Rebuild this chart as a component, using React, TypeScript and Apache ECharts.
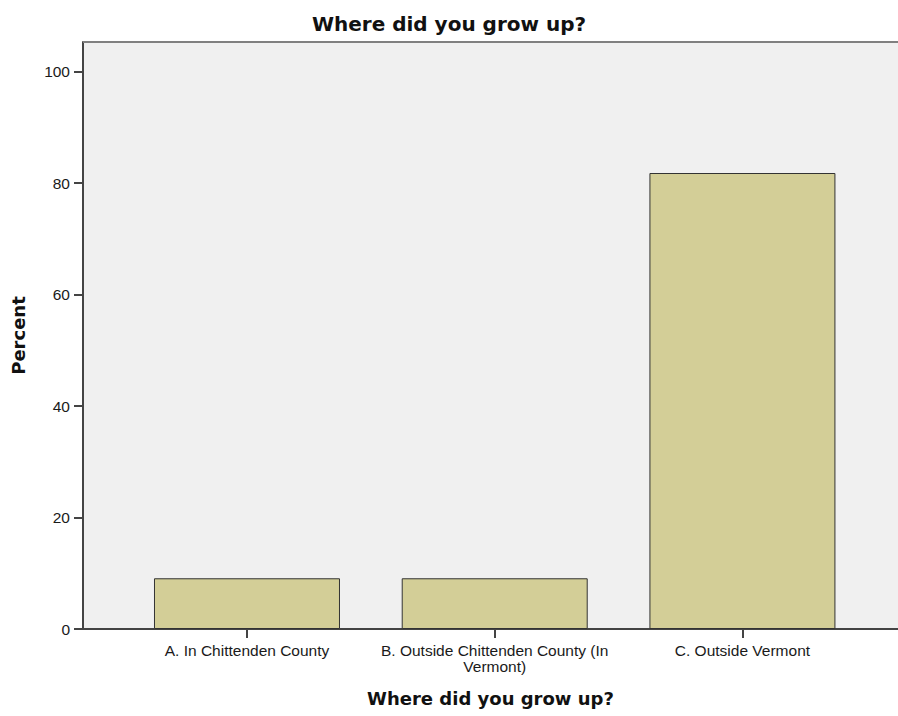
import React, { useEffect, useRef } from "react";
import * as echarts from "echarts";

const categories = [
  "A. In Chittenden County",
  "B. Outside Chittenden County (In\nVermont)",
  "C. Outside Vermont",
];
const positions = [1, 2, 3];
const percents = [9.1, 9.1, 81.8];
const yTicks = [0, 20, 40, 60, 80, 100];
const titleText = "Where did you grow up?";
const xName = "Where did you grow up?";
const yName = "Percent";

export default function App() {
  const ref = useRef<HTMLDivElement>(null);
  useEffect(() => {
    document.body.style.margin = "0";
    const chart = echarts.init(ref.current!, null, { renderer: "svg" });
    chart.setOption({
      animation: false,
      backgroundColor: "#ffffff",
      title: {
        text: titleText,
        left: "center",
        top: 9,
        textStyle: {
          fontFamily: "DejaVu Sans",
          fontWeight: "bold",
          fontSize: 20,
          color: "#111",
        },
      },
      grid: {
        left: 83,
        right: 0,
        top: 42,
        bottom: 87,
        show: true,
        backgroundColor: "#f0f0f0",
        borderWidth: 0,
        borderColor: "transparent",
      },
      xAxis: {
        type: "value",
        min: 0.338,
        max: 3.628,
        name: xName,
        nameLocation: "middle",
        nameGap: 60,
        nameTextStyle: {
          fontFamily: "DejaVu Sans",
          fontWeight: "bold",
          fontSize: 18,
          color: "#111",
        },
        splitLine: { show: false },
        axisLine: { show: true, lineStyle: { color: "#444", width: 2 } },
        axisTick: {
          show: true,
          customValues: positions,
          length: 9,
          lineStyle: { color: "#444", width: 2 },
        },
        axisLabel: {
          customValues: positions,
          margin: 13,
          fontFamily: "Liberation Sans",
          fontSize: 15.5,
          color: "#1a1a1a",
          lineHeight: 16,
          align: "center",
          formatter: (v: number) => categories[Math.round(v) - 1] ?? "",
        },
      },
      yAxis: {
        type: "value",
        min: 0,
        max: 105.3,
        interval: 20,
        name: yName,
        nameLocation: "middle",
        nameGap: 56,
        nameTextStyle: {
          fontFamily: "DejaVu Sans",
          fontWeight: "bold",
          fontSize: 18,
          color: "#111",
        },
        splitLine: { show: false },
        axisLine: { show: true, lineStyle: { color: "#444", width: 2 } },
        axisTick: {
          show: true,
          customValues: yTicks,
          length: 9,
          lineStyle: { color: "#444", width: 2 },
        },
        axisLabel: {
          customValues: yTicks,
          margin: 13,
          fontFamily: "Liberation Sans",
          fontSize: 15.5,
          color: "#1a1a1a",
        },
      },
      graphic: [
        {
          type: "line",
          shape: { x1: 83, y1: 42, x2: 898, y2: 42 },
          style: { stroke: "#808080", lineWidth: 2 },
          z: 10,
        },
      ],
      series: [
        {
          type: "bar",
          data: positions.map((p, i) => [p, percents[i]]),
          barWidth: 186,
          itemStyle: {
            color: "#d3ce97",
            borderColor: "#333",
            borderWidth: 1,
          },
        },
      ],
    });
    return () => chart.dispose();
  }, []);
  return <div ref={ref} style={{ width: 898, height: 716 }} />;
}
